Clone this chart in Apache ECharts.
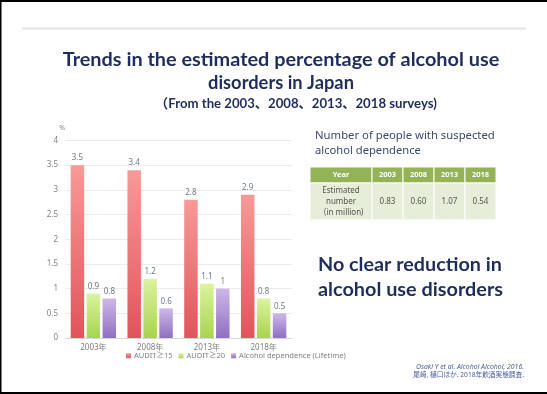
<!DOCTYPE html>
<html>
<head>
<meta charset="utf-8">
<script src="https://cdn.jsdelivr.net/npm/echarts@6/dist/echarts.min.js"></script>
<style>
  html, body { margin: 0; padding: 0; background: #fff; }
  #chart { width: 547px; height: 394px; }
</style>
</head>
<body>
<div id="chart"></div>
<script>
// chart data
const years = ["2003年", "2008年", "2013年", "2018年"];
const audit15 = [3.5, 3.4, 2.8, 2.9];
const audit20 = [0.9, 1.2, 1.1, 0.8];
const dependence = [0.8, 0.6, 1, 0.5];
const seriesNames = ["AUDIT≥15", "AUDIT≥20", "Alcohol dependence (Lifetime)"];

// table data
const tableHead = ["Year", "2003", "2008", "2013", "2018"];
const tableRowLabel = ["Estimated", "number", "（in million)"];
const tableValues = ["0.83", "0.60", "1.07", "0.54"];

const NAVY = "#1f2d5c";
const GREY = "#7f7f7f";
const SANS = "Noto Sans, Noto Sans CJK JP, sans-serif";
const HEAD = "Lato, Noto Sans CJK JP, sans-serif";

const ctx = document.createElement("canvas").getContext("2d");
// pick a font size so the text fills a given width
function fitSize(text, weight, family, width) {
  ctx.font = weight + " 100px " + family;
  return (100 * width) / ctx.measureText(text).width;
}

function grad(top, bottom) {
  return new echarts.graphic.LinearGradient(0, 0, 0, 1, [
    { offset: 0, color: top },
    { offset: 1, color: bottom },
  ]);
}

function text(str, x, y, opts) {
  const o = opts || {};
  const size = o.width ? fitSize(str, o.weight || "normal", o.family || SANS, o.width) : o.size || 10;
  return {
    type: "text",
    x: x,
    y: y,
    silent: true,
    style: {
      text: str,
      font: (o.italic ? "italic " : "") + (o.weight || "normal") + " " + size.toFixed(2) + "px " + (o.family || SANS),
      fill: o.color || "#333",
      align: o.align || "center",
      verticalAlign: "middle",
      textAlign: o.align || "center",
      textVerticalAlign: "middle",
    },
  };
}

const elements = [];

// slide frame
elements.push({ type: "rect", shape: { x: 0, y: 0, width: 547, height: 2 }, style: { fill: "#000" } });
elements.push({ type: "rect", shape: { x: 0, y: 0, width: 1.5, height: 394 }, style: { fill: "#000" } });
elements.push({ type: "rect", shape: { x: 0, y: 392, width: 547, height: 2 }, style: { fill: "#000" } });
elements.push({ type: "rect", shape: { x: 22, y: 27.5, width: 504, height: 2 }, style: { fill: "#e4e4e4" } });

// titles
elements.push(text("Trends in the estimated percentage of alcohol use", 281, 60,
  { weight: "bold", family: HEAD, width: 437, color: NAVY }));
elements.push(text("disorders in Japan", 281, 83, { weight: "bold", family: HEAD, width: 146, color: NAVY }));
elements.push(text("（From the 2003、2008、2013、2018 surveys)", 296, 104,
  { weight: "bold", family: HEAD, width: 282, color: NAVY }));

// right hand notes
elements.push(text("Number of people with suspected", 315, 136, { align: "left", width: 180, color: "#3c4a6c" }));
elements.push(text("alcohol dependence", 315, 151, { align: "left", width: 106, color: "#3c4a6c" }));

elements.push(text("No clear reduction in", 318, 265, { align: "left", weight: "bold", family: HEAD, width: 184, color: NAVY }));
elements.push(text("alcohol use disorders", 318, 290, { align: "left", weight: "bold", family: HEAD, width: 185, color: NAVY }));

elements.push(text("Osaki Y et al. Alcohol Alcohol, 2016.", 524, 367,
  { align: "right", italic: true, width: 114, color: "#4b5d9c" }));
elements.push(text("尾崎, 樋口ほか. 2018年飲酒実態調査.", 524, 375,
  { align: "right", width: 111, color: "#4b5d9c" }));

// table
const tbl = { x: 310, y: 167, colW: [62, 31, 31, 31, 31], headH: 16, bodyH: 37 };
let cx = tbl.x;
tableHead.forEach((h, i) => {
  const w = tbl.colW[i];
  elements.push({ type: "rect", shape: { x: cx, y: tbl.y, width: w, height: tbl.headH },
    style: { fill: "#92b356", stroke: "#fff", lineWidth: 1 } });
  elements.push({ type: "rect", shape: { x: cx, y: tbl.y + tbl.headH, width: w, height: tbl.bodyH },
    style: { fill: "#e6edd8", stroke: "#fff", lineWidth: 1 } });
  elements.push(text(h, cx + w / 2, tbl.y + tbl.headH / 2, { size: 7.5, weight: "bold", color: "#fff" }));
  if (i === 0) {
    tableRowLabel.forEach((s, k) => {
      elements.push(text(s, cx + w / 2, tbl.y + tbl.headH + 8 + k * 11, { size: 8, color: "#555" }));
    });
  } else {
    elements.push(text(tableValues[i - 1], cx + w / 2, tbl.y + tbl.headH + tbl.bodyH / 2, { size: 8, color: "#555" }));
  }
  cx += w;
});

const chart = echarts.init(document.getElementById("chart"), null, { renderer: "canvas" });

const barLabel = {
  show: true,
  position: "top",
  distance: 3,
  fontSize: 8,
  color: "#6c7a88",
  fontFamily: SANS,
};

const option = {
  backgroundColor: "#fff",
  animation: false,
  textStyle: { fontFamily: SANS },
  grid: { left: 65, right: 255, top: 140.5, bottom: 56 },
  legend: {
    left: 126,
    top: 352,
    padding: 0,
    itemWidth: 5,
    itemHeight: 5,
    itemGap: 6,
    icon: "rect",
    textStyle: { fontSize: 7.5, color: GREY, padding: [0, 0, 0, -2] },
    data: seriesNames,
  },
  xAxis: {
    type: "category",
    data: years,
    axisTick: { show: false },
    axisLine: { lineStyle: { color: "#d9d9d9" } },
    axisLabel: { fontSize: 8, color: GREY, margin: 6 },
  },
  yAxis: {
    type: "value",
    min: 0,
    max: 4,
    interval: 0.5,
    name: "%",
    nameGap: 9,
    nameTextStyle: { fontSize: 7, color: GREY, align: "right", padding: [0, 0, 0, 0] },
    axisLine: { show: false },
    axisTick: { show: false },
    axisLabel: { fontSize: 8, color: GREY, margin: 7 },
    splitLine: { lineStyle: { color: "#ececec" } },
  },
  series: [
    {
      name: seriesNames[0],
      type: "bar",
      barWidth: 13.5,
      barGap: "18%",
      data: audit15,
      itemStyle: { color: grad("#f79a97", "#e2545c") },
      label: barLabel,
    },
    {
      name: seriesNames[1],
      type: "bar",
      barWidth: 13.5,
      barGap: "18%",
      data: audit20,
      itemStyle: { color: grad("#dcf3a0", "#a8d44e") },
      label: barLabel,
    },
    {
      name: seriesNames[2],
      type: "bar",
      barWidth: 13.5,
      barGap: "18%",
      data: dependence,
      itemStyle: { color: grad("#cdb8e8", "#8f6fc2") },
      label: barLabel,
    },
  ],
  graphic: { elements: elements },
};

chart.setOption(option);
</script>
</body>
</html>
